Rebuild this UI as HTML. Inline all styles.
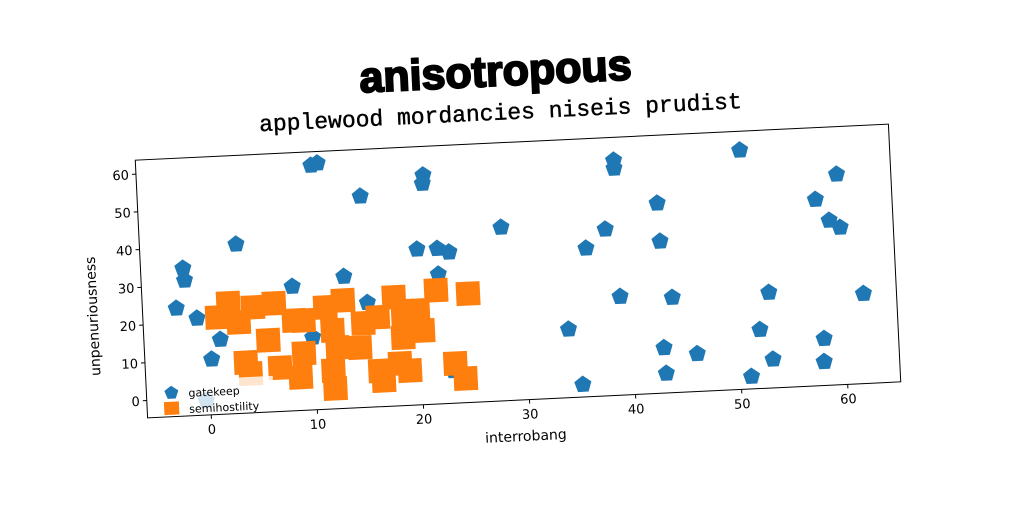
<!DOCTYPE html>
<html><head><meta charset="utf-8"><style>
html,body{margin:0;padding:0;background:#fff;}
svg{display:block;font-family:"DejaVu Sans","Liberation Sans",sans-serif;}
</style></head><body>
<svg id="chart" width="1024" height="512" viewBox="0 0 1024 512">
<g id="rot" transform="rotate(-2.74 518 271)">
<text x="505" y="85" text-anchor="middle" font-family="'Liberation Sans',sans-serif" font-weight="900" font-size="43" stroke="#000" stroke-width="2">anisotropous</text>
<text x="508" y="119" text-anchor="middle" font-family="'Liberation Mono',monospace" font-size="23" stroke="#000" stroke-width="0.4">applewood mordancies niseis prudist</text>
<rect x="141" y="142" width="754" height="258" fill="#fff" stroke="#000" stroke-width="1"/>
<g id="marks"></g>
<g id="axes"></g>
<text x="518" y="441" text-anchor="middle" font-size="14">interrobang</text>
<text transform="translate(96 296) rotate(-90)" text-anchor="middle" font-size="14">unpenuriousness</text>
<g>
<rect x="150" y="364" width="118" height="32" fill="#fff" fill-opacity="0.8"/>
<polygon points="166,369 173,374 170,382 162,382 159,374" fill="#1f77b4"/>
<text x="183" y="381" font-size="11">gatekeep</text>
<rect x="158" y="385" width="15" height="13" fill="#ff7f0e"/>
<text x="183" y="397" font-size="11">semihostility</text>
</g>
</g>
</svg>
<script>
const blueX=[10.5,11.1,21.0,20.9,15.0,28.1,3.1,20.1,22.0,23.1,-2.0,-1.9,22.0,13.1,8.2,15.2,-2.8,-0.9,1.2,9.9,0.3,23.0,-0.4,50.9,39.0,39.0,59.9,57.8,42.9,59.0,60.0,37.9,36.0,43.0,53.0,61.9,39.0,43.9,34.0,52.0,58.0,42.9,46.0,53.1,57.9,43.0,51.0,35.1];
const blueY=[60.1,60.6,56.1,53.9,51.3,41.3,40.2,36.6,36.5,35.4,34.5,31.3,29.7,30.3,28.3,23.1,24.0,21.1,15.2,14.6,10.1,4.0,-0.8,58.7,57.6,55.5,51.1,44.7,45.7,39.0,37.0,39.5,34.7,35.6,20.7,19.2,21.5,20.6,13.5,11.0,7.8,7.4,5.4,3.0,1.7,0.6,-1.3,-1.3];
const orangeX=[2.1,1.0,3.0,4.4,6.4,5.7,3.5,8.2,9.1,6.7,9.0,8.6,11.2,12.9,11.8,12.2,11.7,11.8,14.7,14.3,16.1,17.7,18.5,19.9,20.3,18.4,21.7,24.7,16.1,16.4,18.0,18.9,23.2,24.1,3.9];
const orangeY=[24.7,21.1,19.5,23.3,24.1,14.4,8.8,19.3,19.2,7.0,10.5,4.2,22.4,24.0,16.2,11.6,5.6,0.8,17.7,11.3,19.1,24.2,17.9,20.4,15.0,13.4,25.5,24.2,4.9,2.3,6.6,4.6,5.9,1.8,5.8];
const xTicks=[0,10,20,30,40,50,60];
const yTicks=[0,10,20,30,40,50,60];
const xMin=-6,xMax=65,yMin=-4.6,yMax=63.7;
const L=141,T=142,W=754,H=258;
function sx(v){return L+(v-xMin)/(xMax-xMin)*W;}
function sy(v){return T+H-(v-yMin)/(yMax-yMin)*H;}
const NS="http://www.w3.org/2000/svg";
const marks=document.getElementById('marks');
const axes=document.getElementById('axes');
function pent(cx,cy,r){let p=[];for(let i=0;i<5;i++){const a=-Math.PI/2+i*2*Math.PI/5;p.push((cx+r*Math.cos(a)).toFixed(1)+','+(cy+r*Math.sin(a)).toFixed(1));}return p.join(' ');}
blueX.forEach((x,i)=>{
 const el=document.createElementNS(NS,'polygon');
 el.setAttribute('points',pent(sx(x),sy(blueY[i]),9));
 el.setAttribute('fill','#1f77b4');
 
 
 marks.appendChild(el);
});
orangeX.forEach((x,i)=>{
 const el=document.createElementNS(NS,'rect');
 el.setAttribute('x',sx(x)-12);el.setAttribute('y',sy(orangeY[i])-12);
 el.setAttribute('width',24);el.setAttribute('height',24);
 el.setAttribute('fill','#ff7f0e');
 
 
 marks.appendChild(el);
});
xTicks.forEach(t=>{
 const ln=document.createElementNS(NS,'line');
 ln.setAttribute('x1',sx(t));ln.setAttribute('x2',sx(t));ln.setAttribute('y1',T+H);ln.setAttribute('y2',T+H+4);
 ln.setAttribute('stroke','#000');
 
 
 axes.appendChild(ln);
 const tx=document.createElementNS(NS,'text');
 tx.setAttribute('x',sx(t));tx.setAttribute('y',T+H+19);tx.setAttribute('text-anchor','middle');tx.setAttribute('font-size','13');
 tx.textContent=t;
 
 
 axes.appendChild(tx);
});
yTicks.forEach(t=>{
 const ln=document.createElementNS(NS,'line');
 ln.setAttribute('x1',L-4);ln.setAttribute('x2',L);ln.setAttribute('y1',sy(t));ln.setAttribute('y2',sy(t));
 ln.setAttribute('stroke','#000');
 
 
 axes.appendChild(ln);
 const tx=document.createElementNS(NS,'text');
 tx.setAttribute('x',L-7);tx.setAttribute('y',sy(t)+5);tx.setAttribute('text-anchor','end');tx.setAttribute('font-size','13');
 tx.textContent=t;
 
 
 axes.appendChild(tx);
});
</script>
</body></html>
